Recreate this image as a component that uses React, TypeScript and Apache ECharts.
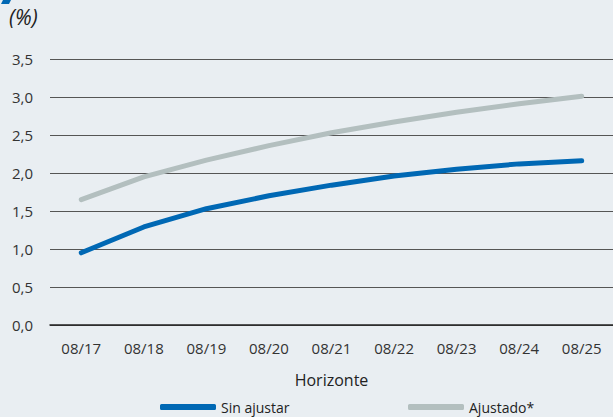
import React, { useEffect, useRef } from "react";
import * as echarts from "echarts";

const categories = ["08/17", "08/18", "08/19", "08/20", "08/21", "08/22", "08/23", "08/24", "08/25"];
const sinAjustar = [0.95, 1.29, 1.53, 1.7, 1.84, 1.96, 2.05, 2.12, 2.16];
const ajustado = [1.65, 1.95, 2.17, 2.36, 2.53, 2.67, 2.8, 2.91, 3.01];
const seriesNames = ["Sin ajustar", "Ajustado*"];

const FONT = "'Open Sans', 'Noto Sans', sans-serif";

export default function App() {
  const ref = useRef<HTMLDivElement>(null);
  useEffect(() => {
    if (!ref.current) return;
    const chart = echarts.init(ref.current, null, { renderer: "svg" });
    chart.setOption({
      animation: false,
      backgroundColor: "#e9eef2",
      textStyle: { fontFamily: FONT },
      grid: { left: 50, right: 0, top: 59, bottom: 92 },
      graphic: [
        {
          type: "polygon",
          shape: { points: [[3, 0], [11, 0], [9, 4], [1, 4]] },
          style: { fill: "#0068b4" },
        },
        {
          type: "text",
          left: 9,
          top: 6,
          style: { text: "(%)", fontSize: 21, fontStyle: "italic", fill: "#222", fontFamily: FONT },
        },
      ],
      legend: [
        {
          data: [seriesNames[0]],
          left: 155,
          top: 395,
          icon: "roundRect",
          itemWidth: 56,
          itemHeight: 6,
          itemGap: 10,
          textStyle: { fontSize: 14, color: "#222", fontFamily: FONT },
        },
        {
          data: [seriesNames[1]],
          left: 403,
          top: 395,
          icon: "roundRect",
          itemWidth: 56,
          itemHeight: 6,
          itemGap: 10,
          textStyle: { fontSize: 14, color: "#222", fontFamily: FONT },
        },
      ],
      xAxis: {
        type: "category",
        data: categories,
        boundaryGap: true,
        name: "Horizonte",
        nameLocation: "middle",
        nameGap: 47,
        nameTextStyle: { fontSize: 16, color: "#222", fontFamily: FONT },
        axisLine: { lineStyle: { color: "#222", width: 1.5 } },
        axisTick: { inside: true, length: 5, lineStyle: { color: "#222", width: 1.5 } },
        axisLabel: { fontSize: 15, color: "#333", margin: 15, fontFamily: FONT },
      },
      yAxis: {
        type: "value",
        min: 0,
        max: 3.5,
        interval: 0.5,
        axisLine: { show: false },
        axisTick: { show: false },
        axisLabel: {
          fontSize: 15,
          color: "#333",
          margin: 17,
          fontFamily: FONT,
          formatter: (v: number) => v.toFixed(1).replace(".", ","),
        },
        splitLine: { lineStyle: { color: "#555", width: 1 } },
      },
      series: [
        {
          name: seriesNames[0],
          type: "line",
          data: sinAjustar,
          symbol: "none",
          lineStyle: { color: "#0068b4", width: 5, cap: "round", join: "round" },
          itemStyle: { color: "#0068b4" },
        },
        {
          name: seriesNames[1],
          type: "line",
          data: ajustado,
          symbol: "none",
          lineStyle: { color: "#b3bfbf", width: 5, cap: "round", join: "round" },
          itemStyle: { color: "#b3bfbf" },
        },
      ],
    });
    return () => chart.dispose();
  }, []);
  return <div ref={ref} style={{ width: 613, height: 417, position: "fixed", left: 0, top: 0 }} />;
}
